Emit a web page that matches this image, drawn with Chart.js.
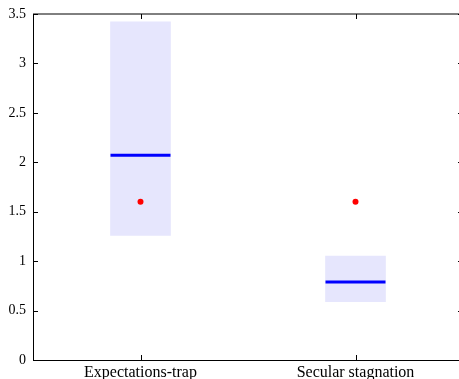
<!DOCTYPE html>
<html>
<head>
<meta charset="utf-8">
<script src="https://cdn.jsdelivr.net/npm/chart.js@4"></script>
<style>
  html, body { margin: 0; padding: 0; background: #fff; overflow: hidden; }
  #wrap { width: 463px; height: 379px; }
</style>
</head>
<body>
<div id="wrap"><canvas id="boxChart" width="463" height="379"></canvas></div>
<script>
// ===============================
// Data
// ===============================

const categories = ["Expectations-trap", "Secular stagnation"];
const rangeLow = [1.26, 0.59];
const rangeHigh = [3.42, 1.05];
const medians = [2.07, 0.79];
const points = [1.6, 1.6];
const yTicks = [0, 0.5, 1, 1.5, 2, 2.5, 3, 3.5];

const serif = "'Liberation Serif', 'DejaVu Serif', serif";

// frame + inward ticks, like the original axes box
const framePlugin = {
    id: "frame",
    afterDraw(chart) {
        const ctx = chart.ctx;
        const a = chart.chartArea;
        const x = chart.scales.x;
        const y = chart.scales.y;
        const tick = 5;
        ctx.save();
        ctx.strokeStyle = "#000";
        ctx.lineWidth = 1;
        ctx.beginPath();
        // left, bottom
        ctx.moveTo(a.left + 0.5, a.top);
        ctx.lineTo(a.left + 0.5, a.bottom + 0.5);
        ctx.lineTo(a.right, a.bottom + 0.5);
        // top
        ctx.moveTo(a.left, a.top);
        ctx.lineTo(a.right, a.top);
        ctx.moveTo(a.right - 0.5, a.top);
        ctx.lineTo(a.right - 0.5, a.bottom);
        yTicks.forEach(function(v){
            const py = Math.round(y.getPixelForValue(v)) + 0.5;
            ctx.moveTo(a.left, py);
            ctx.lineTo(a.left + tick, py);
            ctx.moveTo(a.right, py);
            ctx.lineTo(a.right - tick, py);
        });
        categories.forEach(function(c, i){
            const px = Math.round(x.getPixelForValue(i)) + 0.5;
            ctx.moveTo(px, a.bottom);
            ctx.lineTo(px, a.bottom - tick);
            ctx.moveTo(px, a.top);
            ctx.lineTo(px, a.top + tick);
        });
        ctx.stroke();
        ctx.restore();
    }
};

new Chart(document.getElementById("boxChart"), {
    type: "bar",
    data: {
        labels: categories,
        datasets: [
            {
                type: "bar",
                data: rangeLow.map(function(lo, i){ return [lo, rangeHigh[i]]; }),
                backgroundColor: "rgb(230,230,253)",
                borderWidth: 0,
                barThickness: 60,
                order: 3
            },
            {
                type: "line",
                data: medians,
                showLine: false,
                pointStyle: "line",
                pointRadius: 30,
                pointHoverRadius: 30,
                pointBorderWidth: 3,
                pointBorderColor: "#0000ff",
                order: 2
            },
            {
                type: "line",
                data: points,
                showLine: false,
                pointStyle: "circle",
                pointRadius: 3,
                pointBorderWidth: 0,
                pointBackgroundColor: "#ff0000",
                order: 1
            }
        ]
    },
    options: {
        responsive: false,
        animation: false,
        layout: {
            autoPadding: false,
            padding: { top: 14, right: 0, left: 0, bottom: 0 }
        },
        plugins: {
            legend: { display: false },
            tooltip: { enabled: false }
        },
        scales: {
            x: {
                offset: true,
                grid: { display: false, drawTicks: false },
                border: { display: false },
                ticks: {
                    color: "#000",
                    padding: 3,
                    maxRotation: 0,
                    font: { family: serif, size: 16 }
                },
                afterFit: function(scale){
                    scale.height = 19;
                    scale.paddingLeft = 0;
                    scale.paddingRight = 0;
                }
            },
            y: {
                min: 0,
                max: 3.5,
                grid: { display: false, drawTicks: false },
                border: { display: false },
                afterBuildTicks: function(scale){
                    scale.ticks = yTicks.map(function(v){ return { value: v }; });
                },
                ticks: {
                    color: "#000",
                    padding: 7,
                    font: { family: serif, size: 14 },
                    callback: function(v){ return String(v); }
                },
                afterFit: function(scale){
                    scale.width = 33;
                    scale.paddingTop = 0;
                    scale.paddingBottom = 0;
                }
            }
        }
    },
    plugins: [framePlugin]
});
</script>
</body>
</html>
